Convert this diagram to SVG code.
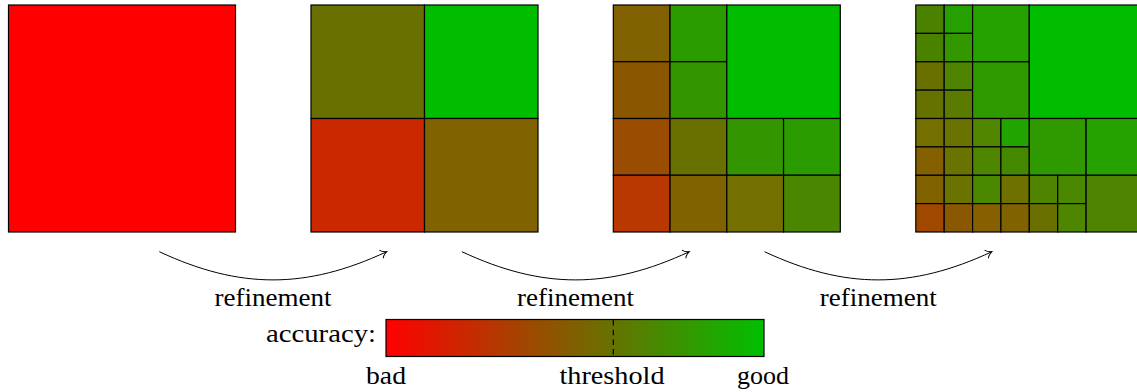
<svg xmlns="http://www.w3.org/2000/svg" width="1137" height="392" viewBox="0 0 1137 392">
<style>
rect.c{stroke:#000;stroke-width:1.2}
text{font-family:"Liberation Serif","Times New Roman",serif;font-size:25px;fill:#000}
.arr{fill:none;stroke:#000;stroke-width:1}
</style>
<defs>
<marker id="to" markerUnits="userSpaceOnUse" orient="auto" markerWidth="14" markerHeight="14" viewBox="-8 -7 10 14" refX="0" refY="0">
<path d="M-6,-4.5 C-4.5,-2 -1.5,-0.5 0,0 C-1.5,0.5 -4.5,2 -6,4.5" fill="none" stroke="#000" stroke-width="1"/>
</marker>
<linearGradient id="acc" x1="0" y1="0" x2="1" y2="0">
<stop offset="0" stop-color="#ff0000"/>
<stop offset="1" stop-color="#00bf00"/>
</linearGradient>
</defs>
<g id="level0">
<rect class="c" x="8.5" y="5" width="227" height="227" fill="#ff0000"/>
</g>
<g id="level1">
<rect class="c" x="311" y="5" width="113.5" height="113.5" fill="#687000"/>
<rect class="c" x="424.5" y="5" width="113.5" height="113.5" fill="#00bd00"/>
<rect class="c" x="311" y="118.5" width="113.5" height="113.5" fill="#cc2800"/>
<rect class="c" x="424.5" y="118.5" width="113.5" height="113.5" fill="#806200"/>
</g>
<g id="level2">
<rect class="c" x="613.3" y="5" width="56.75" height="56.75" fill="#806000"/>
<rect class="c" x="670.05" y="5" width="56.75" height="56.75" fill="#2a9c00"/>
<rect class="c" x="613.3" y="61.75" width="56.75" height="56.75" fill="#8a5600"/>
<rect class="c" x="670.05" y="61.75" width="56.75" height="56.75" fill="#339600"/>
<rect class="c" x="726.8" y="5" width="113.5" height="113.5" fill="#00bd00"/>
<rect class="c" x="613.3" y="118.5" width="56.75" height="56.75" fill="#9a4c00"/>
<rect class="c" x="670.05" y="118.5" width="56.75" height="56.75" fill="#687000"/>
<rect class="c" x="726.8" y="118.5" width="56.75" height="56.75" fill="#339600"/>
<rect class="c" x="783.55" y="118.5" width="56.75" height="56.75" fill="#2a9c00"/>
<rect class="c" x="613.3" y="175.25" width="56.75" height="56.75" fill="#b83800"/>
<rect class="c" x="670.05" y="175.25" width="56.75" height="56.75" fill="#806200"/>
<rect class="c" x="726.8" y="175.25" width="56.75" height="56.75" fill="#747000"/>
<rect class="c" x="783.55" y="175.25" width="56.75" height="56.75" fill="#4a8600"/>
</g>
<g id="level3">
<rect class="c" x="915.8" y="5" width="28.4" height="28.4" fill="#4a8200"/>
<rect class="c" x="944.2" y="5" width="28.4" height="28.4" fill="#26a000"/>
<rect class="c" x="915.8" y="33.4" width="28.4" height="28.4" fill="#4a8200"/>
<rect class="c" x="944.2" y="33.4" width="28.4" height="28.4" fill="#339800"/>
<rect class="c" x="915.8" y="61.8" width="28.4" height="28.4" fill="#6a7000"/>
<rect class="c" x="944.2" y="61.8" width="28.4" height="28.4" fill="#4e8400"/>
<rect class="c" x="915.8" y="90.1" width="28.4" height="28.4" fill="#667200"/>
<rect class="c" x="944.2" y="90.1" width="28.4" height="28.4" fill="#5a7a00"/>
<rect class="c" x="972.6" y="5" width="56.7" height="56.8" fill="#26a200"/>
<rect class="c" x="972.6" y="61.8" width="56.7" height="56.7" fill="#2e9a00"/>
<rect class="c" x="1029.3" y="5" width="113.5" height="113.5" fill="#00bd00"/>
<rect class="c" x="915.8" y="118.5" width="28.4" height="28.4" fill="#747000"/>
<rect class="c" x="944.2" y="118.5" width="28.4" height="28.4" fill="#6a7200"/>
<rect class="c" x="972.6" y="118.5" width="28.3" height="28.4" fill="#508600"/>
<rect class="c" x="1000.9" y="118.5" width="28.4" height="28.4" fill="#22a400"/>
<rect class="c" x="915.8" y="146.9" width="28.4" height="28.4" fill="#846000"/>
<rect class="c" x="944.2" y="146.9" width="28.4" height="28.4" fill="#6a7200"/>
<rect class="c" x="972.6" y="146.9" width="28.3" height="28.4" fill="#4e8600"/>
<rect class="c" x="1000.9" y="146.9" width="28.4" height="28.4" fill="#448800"/>
<rect class="c" x="915.8" y="175.3" width="28.4" height="28.3" fill="#806200"/>
<rect class="c" x="944.2" y="175.3" width="28.4" height="28.3" fill="#6a7200"/>
<rect class="c" x="972.6" y="175.3" width="28.3" height="28.3" fill="#4a8800"/>
<rect class="c" x="1000.9" y="175.3" width="28.4" height="28.3" fill="#6e7000"/>
<rect class="c" x="915.8" y="203.6" width="28.4" height="28.4" fill="#a04800"/>
<rect class="c" x="944.2" y="203.6" width="28.4" height="28.4" fill="#8a5800"/>
<rect class="c" x="972.6" y="203.6" width="28.3" height="28.4" fill="#866000"/>
<rect class="c" x="1000.9" y="203.6" width="28.4" height="28.4" fill="#806200"/>
<rect class="c" x="1029.3" y="118.5" width="56.8" height="56.8" fill="#2e9a00"/>
<rect class="c" x="1086.1" y="118.5" width="56.7" height="56.8" fill="#26a200"/>
<rect class="c" x="1029.3" y="175.3" width="28.4" height="28.3" fill="#4e8400"/>
<rect class="c" x="1057.7" y="175.3" width="28.4" height="28.3" fill="#4a8800"/>
<rect class="c" x="1029.3" y="203.6" width="28.4" height="28.4" fill="#6a7000"/>
<rect class="c" x="1057.7" y="203.6" width="28.4" height="28.4" fill="#4e8600"/>
<rect class="c" x="1086.1" y="175.3" width="56.7" height="56.7" fill="#4e8400"/>
</g>
<g id="connectors">
<path class="arr" marker-end="url(#to)" d="M159.3,251.7 C240,289.3 306,289.3 386.7,251.7"/>
<path class="arr" marker-end="url(#to)" d="M461.9,251.7 C542.6,289.3 608.6,289.3 689.3,251.7"/>
<path class="arr" marker-end="url(#to)" d="M764.5,251.7 C845.2,289.3 911.2,289.3 991.9,251.7"/>
<text x="273" y="306" text-anchor="middle" textLength="117" lengthAdjust="spacingAndGlyphs">refinement</text>
<text x="575.6" y="306" text-anchor="middle" textLength="117" lengthAdjust="spacingAndGlyphs">refinement</text>
<text x="878.2" y="306" text-anchor="middle" textLength="117" lengthAdjust="spacingAndGlyphs">refinement</text>
</g>
<g id="legend">
<text x="376" y="342" text-anchor="end" textLength="110" lengthAdjust="spacingAndGlyphs">accuracy:</text>
<rect x="386" y="319.5" width="378" height="37" fill="url(#acc)" stroke="#000" stroke-width="1.2"/>
<line x1="613.3" y1="320" x2="613.3" y2="356" stroke="#000" stroke-width="1.2" stroke-dasharray="5.5,4.2"/>
<text x="386" y="384" text-anchor="middle" textLength="40" lengthAdjust="spacingAndGlyphs">bad</text>
<text x="612" y="384" text-anchor="middle" textLength="105" lengthAdjust="spacingAndGlyphs">threshold</text>
<text x="763" y="384" text-anchor="middle" textLength="52" lengthAdjust="spacingAndGlyphs">good</text>
</g>
</svg>
